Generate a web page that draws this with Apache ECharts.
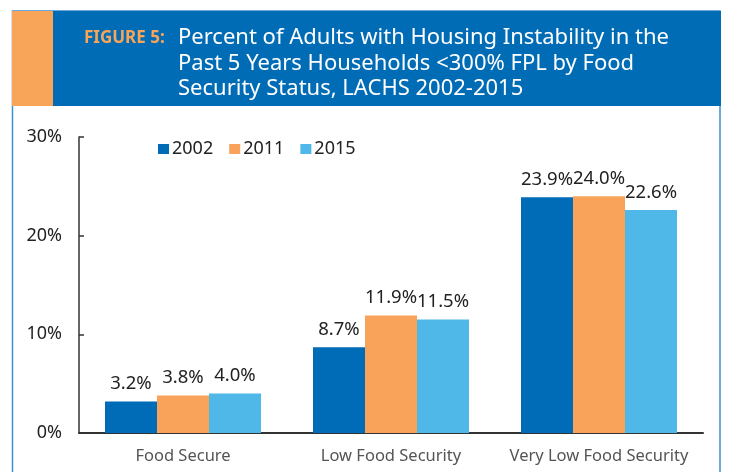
<!DOCTYPE html>
<html>
<head>
<meta charset="utf-8">
<script src="https://cdn.jsdelivr.net/npm/echarts@6/dist/echarts.min.js"></script>
<style>
  html, body { margin: 0; padding: 0; background: #fff; }
  #chart { width: 730px; height: 472px; }
</style>
</head>
<body>
<div id="chart"></div>
<script>
// categories and values (percent)
var categories = ['Food Secure', 'Low Food Security', 'Very Low Food Security'];
var years = ['2002', '2011', '2015'];
var values2002 = [3.2, 8.7, 23.9];
var values2011 = [3.8, 11.9, 24.0];
var values2015 = [4.0, 11.5, 22.6];
var yTicks = [0, 10, 20, 30];

var colors = ['#006bb6', '#f9a35a', '#4fb8e8'];
var font = '"Noto Sans", "Open Sans", sans-serif';

var chart = echarts.init(document.getElementById('chart'));

function barSeries(name, data, color) {
  return {
    name: name,
    type: 'bar',
    data: data,
    barWidth: 52,
    barGap: '0%',
    itemStyle: { color: color },
    label: {
      show: true,
      position: 'top',
      distance: 8,
      formatter: function (p) { return p.value.toFixed(1) + '%'; },
      color: '#222',
      fontSize: 18.5,
      fontFamily: font
    }
  };
}

var option = {
  animation: false,
  backgroundColor: '#fff',
  graphic: [
    // outer frame
    { type: 'rect', shape: { x: 12.5, y: 11, width: 707.5, height: 480 },
      style: { fill: 'none', stroke: '#3d8fd4', lineWidth: 1.5 }, z: 0 },
    { type: 'rect', shape: { x: 12, y: 11, width: 41, height: 95 },
      style: { fill: '#f8a459' }, z: 1 },
    { type: 'rect', shape: { x: 53, y: 11, width: 668, height: 95 },
      style: { fill: '#006cb5' }, z: 1 }
  ],
  title: [
    {
      text: 'FIGURE 5:',
      left: 84, top: 30, padding: 0,
      textStyle: { color: '#f8a459', fontSize: 17, fontWeight: 'bold', fontFamily: font }
    },
    {
      text: 'Percent of Adults with Housing Instability in the\nPast 5 Years Households <300% FPL by Food\nSecurity Status, LACHS 2002-2015',
      left: 178, top: 25, padding: 0,
      textStyle: { color: '#fff', fontSize: 22, fontWeight: 'normal', lineHeight: 25.5, fontFamily: font }
    }
  ],
  legend: {
    data: years,
    left: 158, top: 140, padding: 0,
    itemWidth: 11, itemHeight: 10, itemGap: 16,
    icon: 'rect',
    textStyle: { color: '#222', fontSize: 18, fontFamily: font, padding: [0, 0, 0, -2] }
  },
  grid: { left: 79, right: 27, top: 137, bottom: 39, containLabel: false },
  xAxis: {
    type: 'category',
    data: categories,
    axisLine: { lineStyle: { color: '#333', width: 2 } },
    axisTick: { show: false },
    axisLabel: { interval: 0, color: '#555', fontSize: 16.5, margin: 15, fontFamily: font }
  },
  yAxis: {
    type: 'value',
    min: yTicks[0], max: yTicks[yTicks.length - 1], interval: 10,
    splitLine: { show: false },
    axisLine: { show: true, lineStyle: { color: '#333', width: 1.5 } },
    axisTick: { show: true, inside: true, length: 5, lineStyle: { color: '#333', width: 1.5 } },
    axisLabel: { formatter: '{value}%', color: '#222', fontSize: 18, margin: 17, fontFamily: font }
  },
  series: [
    barSeries(years[0], values2002, colors[0]),
    barSeries(years[1], values2011, colors[1]),
    barSeries(years[2], values2015, colors[2])
  ]
};

chart.setOption(option);
</script>
</body>
</html>
